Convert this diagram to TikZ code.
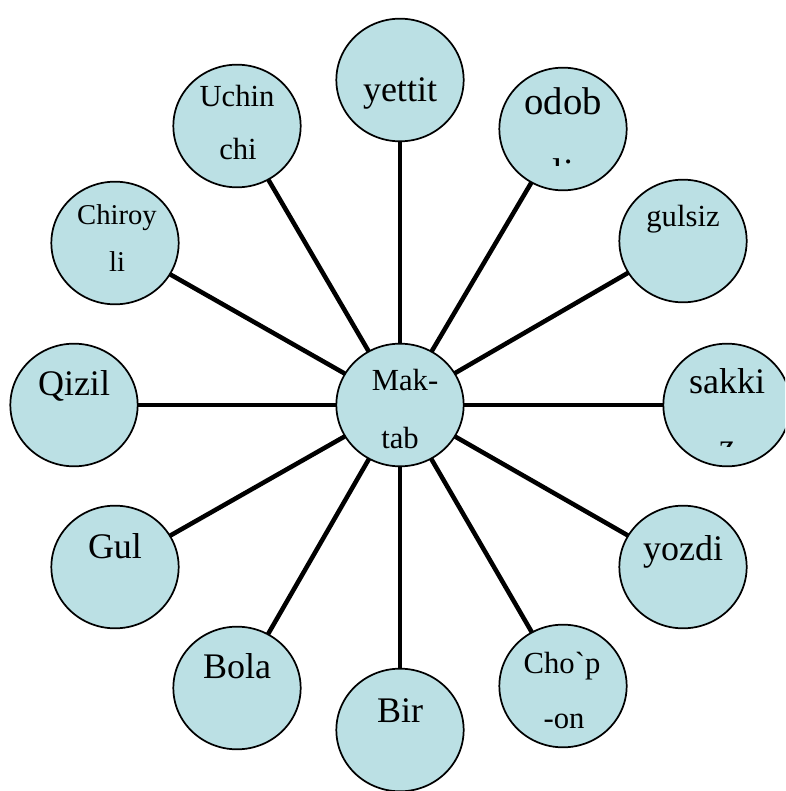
\documentclass[tikz,border=0pt]{standalone}
\usepackage{fontspec}
\newfontfamily\lib{Liberation Serif}
\usetikzlibrary{shapes.geometric,backgrounds}
\definecolor{bubble}{RGB}{187,224,228}
\begin{document}
\begin{tikzpicture}[x=0.75pt,y=-0.75pt,
  bub/.style={ellipse, draw=black, line width=1.3pt, fill=bubble,
    minimum width=95.5pt, minimum height=92pt, inner sep=0pt},
  spoke/.style={line width=3.4pt, line cap=butt},
  big/.style={font=\lib\fontsize{27}{32}\selectfont, anchor=base, inner sep=0pt},
  odobfont/.style={font=\lib\fontsize{29}{34}\selectfont, anchor=base, inner sep=0pt},
  small/.style={font=\lib\fontsize{23}{28}\selectfont, anchor=base, inner sep=0pt},
  tiny/.style={font=\lib\fontsize{21.5}{26}\selectfont, anchor=base, inner sep=0pt}]
\useasboundingbox (0,0) rectangle (785,791);
\clip (0,0) rectangle (785,791);
% bubbles
\node[bub] (m)   at (400,405) {};
\node[bub] (yet) at (400,80)  {};
\node[bub] (odo) at (563,129) {};
\node[bub] (gul) at (683,241) {};
\node[bub] (sak) at (727,405) {};
\node[bub] (yoz) at (683,567) {};
\node[bub] (cho) at (563,686) {};
\node[bub] (bir) at (400,730) {};
\node[bub] (bol) at (237,688) {};
\node[bub] (gl)  at (115,567) {};
\node[bub] (qiz) at (74,405)  {};
\node[bub] (chi) at (115,243) {};
\node[bub] (uch) at (237,126) {};
% spokes
\begin{scope}[on background layer]
\foreach \n in {yet,odo,gul,sak,yoz,cho,bir,bol,gl,qiz,chi,uch}
  \draw[spoke] (m.center) -- (\n.center);
\end{scope}
% labels
\node[small] (tm1) at (405,390) {Mak-};
\node[small] (tm2) at (400,448) {tab};
\node[big] (tyet) at (400,102) {yettit};
\node[odobfont] (todo) at (563,115) {odob};
\begin{scope}
  \clip (480,60) rectangle (650,166);
  \node[odobfont] (todo2) at (563,186) {li};
\end{scope}
\node[small] (tgul) at (683,227) {gulsiz};
\node[big] (tsak) at (727,393) {sakki};
\begin{scope}
  \clip (650,330) rectangle (785,446);
  \node[big] (tsak2) at (727,458) {z};
\end{scope}
\node[big] (tyoz) at (683,560) {yozdi};
\node[small] (tcho1) at (562,673) {Cho`p};
\node[small] (tcho2) at (564,728) {-on};
\node[big] (tbir) at (400,722) {Bir};
\node[big] (tbol) at (237,678) {Bola};
\node[big] (tgl) at (115,558) {Gul};
\node[big] (tqiz) at (74,395) {Qizil};
\node[tiny] (tchi1) at (117,225) {Chiroy};
\node[tiny] (tchi2) at (117,272) {li};
\node[small] (tuch1) at (237,107) {Uchin};
\node[small] (tuch2) at (238,160) {chi};
\end{tikzpicture}
\end{document}
